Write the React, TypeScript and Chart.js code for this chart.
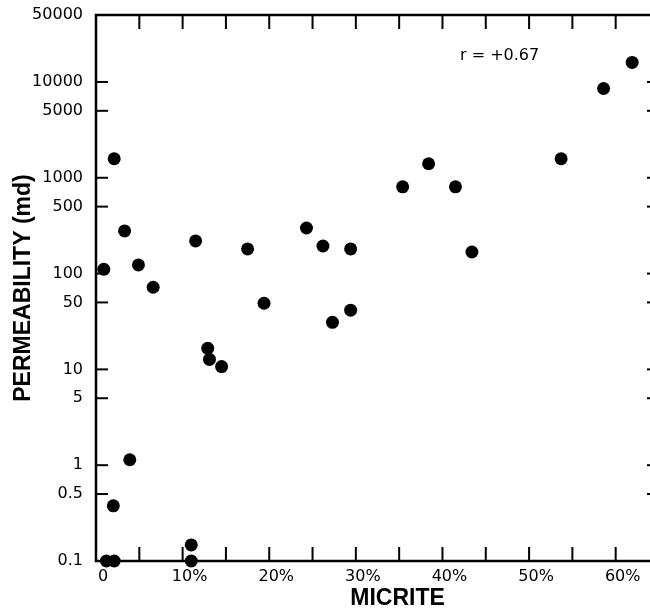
import React, { useEffect, useRef } from 'react';
import { Chart, registerables } from 'chart.js';

Chart.register(...registerables);

// Micrite content (%) of each sample
const micrite = [
  0.9, 1.2, 2.0, 2.1, 2.1, 3.3, 3.9, 4.9, 6.6, 11.0, 11.0, 11.5, 12.9, 13.1, 14.5,
  17.5, 19.4, 24.3, 26.2, 27.3, 29.4, 29.4, 35.4, 38.4, 41.5, 43.4, 53.7, 58.6, 61.9,
];
// Permeability (md) of each sample
const permeability = [
  111, 0.1, 0.377, 1580, 0.1, 279, 1.14, 123, 72, 0.147, 0.1, 219, 16.6, 12.7, 10.7,
  181, 49, 299, 194, 31, 181, 41.5, 805, 1400, 805, 168, 1580, 8550, 16000,
];

const yTickValues = [0.1, 0.5, 1, 5, 10, 50, 100, 500, 1000, 5000, 10000, 50000];
const xMin = 0;
const xMax = 65;
const xStep = 5;
const yMin = 0.1;
const yMax = 50000;

const xTitle = 'MICRITE';
const yTitle = 'PERMEABILITY (md)';
const annotationText = 'r = +0.67';
const annotationX = 46.6;
const annotationY = 18900;

const framePlugin = {
  id: 'frame',
  afterDraw(chart: any) {
    const { ctx, chartArea, scales } = chart;
    const { left, right, top, bottom } = chartArea;
    const xs = scales.x;
    const ys = scales.y;
    ctx.save();
    ctx.strokeStyle = '#000';
    ctx.lineWidth = 2.5;
    ctx.strokeRect(left, top, right - left, bottom - top);
    ctx.lineWidth = 2;
    const line = (x1: number, y1: number, x2: number, y2: number) => {
      ctx.beginPath();
      ctx.moveTo(x1, y1);
      ctx.lineTo(x2, y2);
      ctx.stroke();
    };
    xs.ticks.forEach((t: any) => {
      if (t.value <= xs.min || t.value >= xs.max) return;
      const px = xs.getPixelForValue(t.value);
      line(px, bottom, px, bottom - 14);
      line(px, top, px, top + 14);
    });
    ys.ticks.forEach((t: any) => {
      if (t.value <= ys.min || t.value >= ys.max) return;
      const py = ys.getPixelForValue(t.value);
      line(left, py, left + 12, py);
      line(right, py, right - 12, py);
    });
    ctx.fillStyle = '#000';
    ctx.textAlign = 'center';
    ctx.textBaseline = 'middle';
    ctx.font = 'bold 23px "Liberation Sans"';
    ctx.fillText(xTitle, (left + right) / 2 + 20, bottom + 38);
    ctx.font = '16px "DejaVu Sans"';
    ctx.fillText(annotationText, xs.getPixelForValue(annotationX), ys.getPixelForValue(annotationY));
    ctx.restore();
  },
};

export default function App() {
  const ref = useRef<HTMLCanvasElement>(null);
  useEffect(() => {
    if (!ref.current) return;
    const chart = new Chart(ref.current, {
      type: 'scatter',
      data: {
        datasets: [
          {
            data: micrite.map((m, i) => ({ x: m, y: permeability[i] })),
            backgroundColor: '#000',
            borderWidth: 0,
            pointRadius: 6.5,
            pointHoverRadius: 6.5,
            clip: false as any,
          },
        ],
      },
      options: {
        animation: false,
        responsive: false,
        devicePixelRatio: 1,
        layout: { padding: { top: 15, right: 11, left: 0, bottom: 0 } },
        plugins: { legend: { display: false }, tooltip: { enabled: false } },
        scales: {
          x: {
            type: 'linear',
            min: xMin,
            max: xMax,
            grid: { display: false, drawTicks: false },
            border: { display: false },
            ticks: {
              stepSize: xStep,
              autoSkip: false,
              maxRotation: 0,
              labelOffset: 7,
              padding: 6,
              color: '#000',
              font: { family: 'DejaVu Sans', size: 16 },
              callback: (v: any) => (v % 10 === 0 ? (v === 0 ? '0' : v + '%') : ''),
            },
            afterFit: (s: any) => {
              s.height = 51;
              s.paddingLeft = 0;
              s.paddingRight = 0;
            },
          },
          y: {
            type: 'logarithmic',
            min: yMin,
            max: yMax,
            grid: { display: false, drawTicks: false },
            border: { display: false },
            afterBuildTicks: (s: any) => {
              s.ticks = yTickValues.map((v) => ({ value: v }));
            },
            ticks: {
              autoSkip: false,
              padding: 13,
              color: '#000',
              font: { family: 'DejaVu Sans', size: 16 },
              callback: (v: any) => String(v),
            },
            title: {
              display: true,
              text: yTitle,
              color: '#000',
              font: { family: 'Liberation Sans', size: 23, weight: 'bold', lineHeight: 1 },
              padding: { top: 12, bottom: 0 },
            },
            afterFit: (s: any) => {
              s.width = 96;
              s.paddingTop = 0;
              s.paddingBottom = 0;
            },
          },
        },
      },
      plugins: [framePlugin],
    });
    return () => chart.destroy();
  }, []);
  return (
    <div
      style={{
        position: 'fixed',
        left: 0,
        top: 0,
        width: 650,
        height: 612,
        overflow: 'hidden',
        background: '#fff',
      }}
    >
      <canvas ref={ref} width={670} height={612} style={{ display: 'block' }} />
    </div>
  );
}
